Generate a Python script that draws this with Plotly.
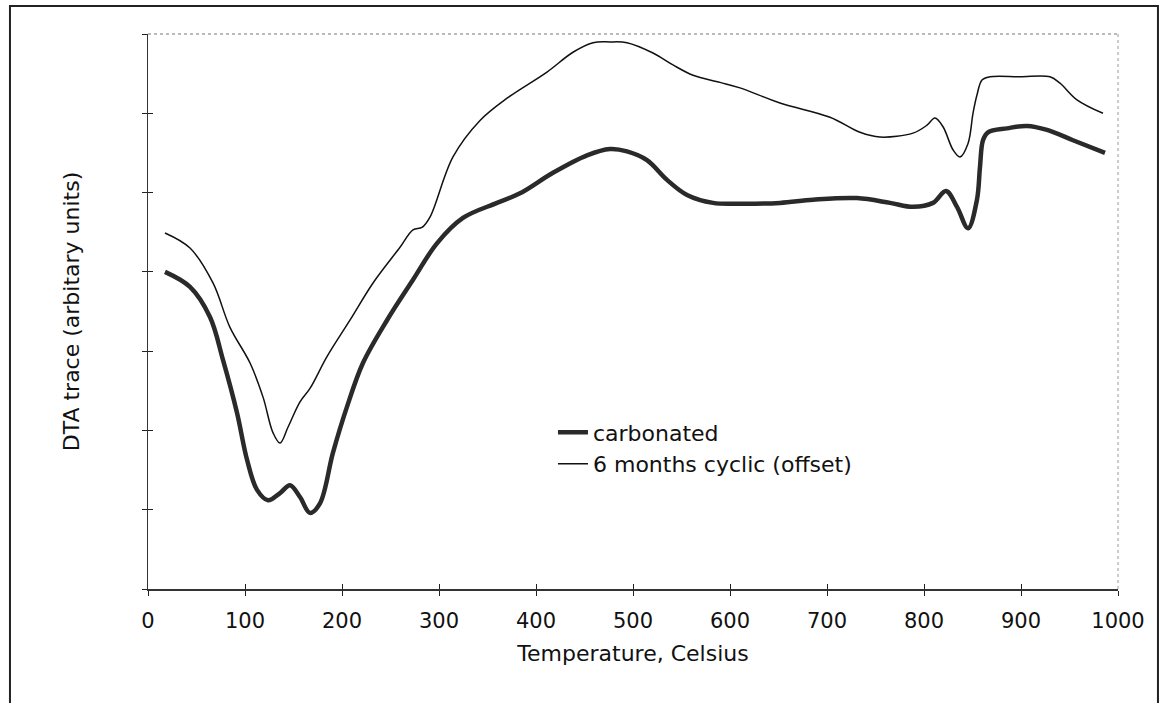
import plotly.graph_objects as go

# Temperature (Celsius) and DTA trace values (arbitrary units)
carb_T = [17.5, 43.3, 63.9, 77.3, 91.8, 102.1, 112.4, 123.7, 136.1, 146.4, 156.7, 167.0, 177.3,
          190.7, 205.2, 221.6, 246.4, 273.2, 297.9, 324.7, 359.8, 383.5, 417.5, 452.6, 476.3,
          493.8, 514.4, 535.1, 555.7, 582.5, 610.3, 651.5, 685.6, 730.9, 765.0, 788.7, 809.3,
          822.7, 834.0, 845.4, 854.6, 857.7, 860.8, 866.0, 885.6, 906.2, 926.8, 953.6, 986.6]
carb_v = [4.00, 3.81, 3.43, 2.89, 2.22, 1.63, 1.25, 1.12, 1.21, 1.31, 1.16, 0.96, 1.08,
          1.72, 2.30, 2.85, 3.39, 3.90, 4.36, 4.68, 4.87, 4.99, 5.25, 5.47, 5.55,
          5.52, 5.41, 5.16, 4.97, 4.87, 4.86, 4.87, 4.91, 4.93, 4.87, 4.82, 4.87,
          5.02, 4.82, 4.55, 4.91, 5.32, 5.66, 5.76, 5.81, 5.84, 5.79, 5.66, 5.50]

cyc_T = [17.5, 43.3, 67.0, 84.5, 105.2, 118.6, 128.9, 136.1, 144.3, 156.7, 167.0, 184.5, 208.2,
         232.0, 259.8, 273.2, 282.5, 290.7, 314.4, 342.3, 370.1, 411.3, 438.1, 458.8, 476.3,
         493.8, 520.6, 541.2, 561.9, 589.7, 610.3, 651.5, 703.1, 734.0, 754.6, 788.7, 803.1,
         811.3, 819.6, 829.9, 837.1, 845.4, 850.5, 854.6, 859.8, 868.0, 899.0, 929.9, 940.2,
         957.7, 984.5]
cyc_v = [4.49, 4.30, 3.86, 3.30, 2.85, 2.42, 1.97, 1.84, 2.04, 2.36, 2.53, 2.93, 3.39,
         3.86, 4.31, 4.53, 4.56, 4.69, 5.45, 5.91, 6.19, 6.52, 6.77, 6.89, 6.90,
         6.89, 6.76, 6.61, 6.48, 6.39, 6.32, 6.13, 5.95, 5.76, 5.70, 5.75, 5.85,
         5.94, 5.83, 5.54, 5.45, 5.62, 6.00, 6.23, 6.42, 6.46, 6.46, 6.46, 6.38,
         6.17, 6.00]

x_ticks = [0, 100, 200, 300, 400, 500, 600, 700, 800, 900, 1000]
y_ticks = [0, 1, 2, 3, 4, 5, 6, 7]

FONT = "DejaVu Sans"

fig = go.Figure()
fig.add_trace(go.Scatter(x=carb_T, y=carb_v, mode="lines", name="carbonated",
                         line=dict(color="#2a2a2a", width=4.5, shape="spline", smoothing=1.0)))
fig.add_trace(go.Scatter(x=cyc_T, y=cyc_v, mode="lines", name="6 months cyclic (offset)",
                         line=dict(color="#111111", width=1.5, shape="spline", smoothing=1.0)))
# invisible trace on overlay axes so that inside ticks render
fig.add_trace(go.Scatter(x=[None], y=[None], xaxis="x2", yaxis="y2", showlegend=False))

fig.update_layout(
    width=1166, height=703,
    margin=dict(l=148, r=48, t=34, b=114),
    paper_bgcolor="white", plot_bgcolor="white",
    font=dict(family=FONT, color="#111"),
    xaxis=dict(range=[0, 1000], tickvals=x_ticks, ticks="outside", ticklen=5, tickcolor="#222",
               showline=True, linecolor="#333", linewidth=1.5, showgrid=False, zeroline=False,
               tickfont=dict(size=21, family=FONT), ticklabelstandoff=7,
               title=dict(text="Temperature, Celsius", font=dict(size=22, family=FONT), standoff=14)),
    yaxis=dict(range=[0, 7], tickvals=y_ticks, ticks="outside", ticklen=5, tickcolor="#222",
               showticklabels=False, showline=True, linecolor="#333", linewidth=1.2,
               showgrid=False, zeroline=False,
               title=dict(text="DTA trace (arbitary units)", font=dict(size=22, family=FONT), standoff=56)),
    xaxis2=dict(range=[0, 1000], tickvals=x_ticks, ticks="inside", ticklen=5, tickcolor="#222",
                showticklabels=False, overlaying="x", showgrid=False, zeroline=False, showline=False),
    yaxis2=dict(range=[0, 7], tickvals=y_ticks, ticks="inside", ticklen=5, tickcolor="#222",
                showticklabels=False, overlaying="y", showgrid=False, zeroline=False, showline=False),
    legend=dict(x=0.4175, y=0.32, xanchor="left", yanchor="top", bgcolor="rgba(0,0,0,0)",
                font=dict(size=22, family=FONT), tracegroupgap=0, itemwidth=30),
    showlegend=True,
    shapes=[
        # plot-area frame (top and right dotted)
        dict(type="line", xref="paper", yref="paper", x0=0, x1=1, y0=1, y1=1,
             line=dict(color="#777", width=1, dash="dot")),
        dict(type="line", xref="paper", yref="paper", x0=1, x1=1, y0=0, y1=1,
             line=dict(color="#999", width=1, dash="dot")),
        # outer chart border
        dict(type="rect", xref="paper", yref="paper", x0=-0.1423, x1=1.0412, y0=-0.25, y1=1.0505,
             line=dict(color="#222", width=2), layer="below"),
    ],
)

fig.write_html("out.html")
